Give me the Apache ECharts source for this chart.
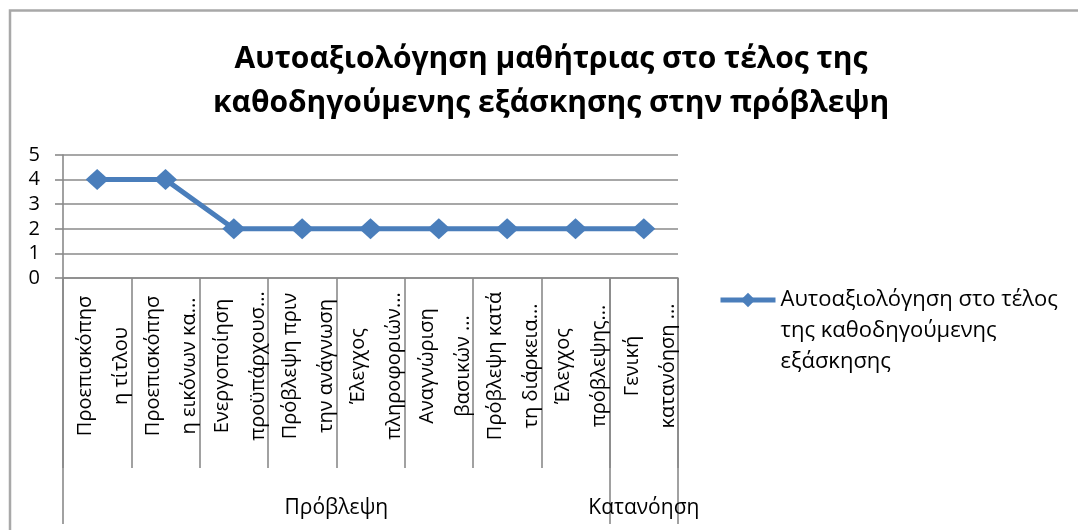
<!DOCTYPE html>
<html>
<head>
<meta charset="utf-8">
<script src="https://cdn.jsdelivr.net/npm/echarts@6/dist/echarts.min.js"></script>
<style>
  html, body { margin: 0; padding: 0; background: #fff; }
  #chart { width: 1078px; height: 530px; }
</style>
</head>
<body>
<div id="chart"></div>
<script>
  // κατηγορίες (δύο γραμμές η καθεμία, όπως στο Excel)
  var categories = [
    'Προεπισκόπησ\nη τίτλου',
    'Προεπισκόπησ\nη εικόνων κα...',
    'Ενεργοποίηση\nπροϋπάρχουσ...',
    'Πρόβλεψη πριν\nτην ανάγνωση',
    'Έλεγχος\nπληροφοριών...',
    'Αναγνώριση\nβασικών ...',
    'Πρόβλεψη κατά\nτη διάρκεια...',
    'Έλεγχος\nπρόβλεψης...',
    'Γενική\nκατανόηση ...'
  ];
  // ομάδες: πόσες κατηγορίες ανήκουν σε καθεμία
  var groupNames = ['Πρόβλεψη', 'Κατανόηση'];
  var groupSizes = [8, 1];
  var scores = [4, 4, 2, 2, 2, 2, 2, 2, 2];
  var yTicks = [0, 1, 2, 3, 4, 5];

  var seriesName = 'Αυτοαξιολόγηση στο τέλος\nτης καθοδηγούμενης\nεξάσκησης';
  var titleText = 'Αυτοαξιολόγηση μαθήτριας στο τέλος της\nκαθοδηγούμενης εξάσκησης στην πρόβλεψη';

  var font = 'Open Sans';
  var gridColor = '#8a8a8a';
  var blue = '#4a7ebb';

  // κέντρα των ομάδων, σε μισές μονάδες κατηγορίας
  var groupCenters = {};
  var start = 0;
  groupSizes.forEach(function (n, i) {
    groupCenters[start * 2 + n] = groupNames[i];
    start += n;
  });

  var chart = echarts.init(document.getElementById('chart'));
  chart.setOption({
    animation: false,
    textStyle: { fontFamily: font },
    grid: { left: 63, right: 400, top: 155, bottom: 252 },
    graphic: [
      {
        type: 'rect',
        shape: { x: 10, y: 10.5, width: 1200, height: 700 },
        style: { fill: 'none', stroke: '#a8a8a8', lineWidth: 2.5 },
        silent: true
      },
      {
        type: 'text',
        x: 551,
        y: 81,
        style: {
          text: titleText,
          font: 'bold 30px "Open Sans"',
          fill: '#000',
          align: 'center',
          verticalAlign: 'middle',
          lineHeight: 44
        }
      }
    ],
    legend: {
      left: 713,
      top: 217.5,
      orient: 'vertical',
      itemWidth: 55,
      itemHeight: 18,
      data: [seriesName],
      lineStyle: { width: 5 },
      // δύο κενές γραμμές μπροστά ώστε η πρώτη γραμμή να στέκεται δίπλα στο σύμβολο
      formatter: function (name) { return '\n\n' + name; },
      textStyle: {
        fontFamily: font,
        fontSize: 22,
        color: '#000',
        lineHeight: 31
      }
    },
    xAxis: [
      {
        type: 'category',
        position: 'bottom',
        data: categories,
        boundaryGap: true,
        axisLine: { show: true, lineStyle: { color: gridColor, width: 1.6 } },
        axisTick: { show: true, interval: 0, length: 190, lineStyle: { color: gridColor, width: 1.6 } },
        axisLabel: {
          interval: 0,
          rotate: 90,
          align: 'center',
          verticalAlign: 'middle',
          margin: 88,
          color: '#000',
          formatter: function (v) {
            var p = v.split('\n');
            return '{a|' + p[0] + '}\n{b|' + p[1] + '}';
          },
          rich: {
            a: { fontSize: 20, lineHeight: 48, color: '#000', fontFamily: font },
            b: { fontSize: 20, lineHeight: 24, color: '#000', fontFamily: font }
          }
        }
      },
      {
        // μακριές γραμμές που χωρίζουν τις ομάδες
        type: 'value',
        position: 'bottom',
        min: 0,
        max: categories.length,
        interval: groupSizes[0],
        axisLine: { show: false },
        axisTick: { show: true, length: 246, lineStyle: { color: gridColor, width: 1.6 } },
        axisLabel: { show: false },
        splitLine: { show: false }
      },
      {
        // ονόματα ομάδων
        type: 'value',
        position: 'bottom',
        min: 0,
        max: categories.length * 2,
        interval: 1,
        axisLine: { show: false },
        axisTick: { show: false },
        splitLine: { show: false },
        axisLabel: {
          margin: 220,
          fontSize: 21,
          color: '#000',
          formatter: function (v) { return groupCenters[v] || ''; }
        }
      }
    ],
    yAxis: {
      type: 'value',
      min: yTicks[0],
      max: yTicks[yTicks.length - 1],
      interval: 1,
      axisLine: { show: true, lineStyle: { color: gridColor, width: 1.6 } },
      axisTick: { show: true, length: 8, lineStyle: { color: gridColor, width: 1.6 } },
      axisLabel: { margin: 23, fontSize: 20, color: '#000' },
      splitLine: { show: true, lineStyle: { color: gridColor, width: 1.6 } }
    },
    series: [{
      name: seriesName,
      type: 'line',
      xAxisIndex: 0,
      data: scores,
      symbol: 'diamond',
      symbolSize: [23, 21],
      color: blue,
      lineStyle: { width: 5, color: blue },
      itemStyle: { color: blue }
    }]
  });
</script>
</body>
</html>
